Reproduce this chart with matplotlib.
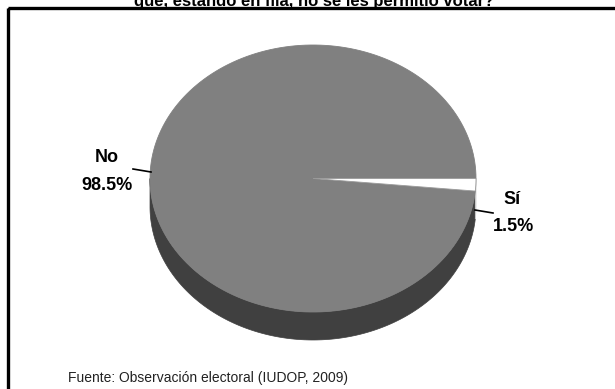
import numpy as np
import matplotlib.pyplot as plt
from matplotlib.patches import Polygon, Rectangle

labels = ['No', 'Sí']
values = [98.5, 1.5]
top_colors = ['#808080', '#ffffff']
side_colors = ['#404040', '#c8c8c8']

title = 'que, estando en fila, no se les permitió votar?'
source = 'Fuente: Observación electoral (IUDOP, 2009)'

plt.rcParams['font.family'] = ['Liberation Sans', 'DejaVu Sans']

W, H = 615, 389
fig = plt.figure(figsize=(W / 100, H / 100), dpi=100)
ax = fig.add_axes([0, 0, 1, 1])
ax.set_xlim(0, W)
ax.set_ylim(H, 0)
ax.axis('off')

# ellipse geometry of the tilted pie (pixel units)
cx, cy = 313, 178.5
rx, ry = 163, 133.5
depth = 28


def arc(t0, t1, dy=0, n=200):
    t = np.radians(np.linspace(t0, t1, n))
    return np.column_stack([cx + rx * np.cos(t), cy - ry * np.sin(t) + dy])


# slice angles: "Sí" hangs just below the 3 o'clock line, "No" takes the rest
fracs = np.array(values) / sum(values) * 360
spans = [(0, fracs[0]), (-fracs[1], 0)]

# side wall, only the front half (180..360 deg) is visible
for (a0, a1), col in zip(spans, side_colors):
    if a0 < 0:
        lo, hi = a0 + 360, 360
    else:
        lo, hi = 180, min(a1, 360)
    if hi <= lo:
        continue
    top_edge = arc(lo, hi)
    bot_edge = arc(hi, lo, dy=depth)
    ax.add_patch(Polygon(np.vstack([top_edge, bot_edge]), closed=True,
                         facecolor=col, edgecolor=col, lw=0.5, zorder=1))

# top faces
for (a0, a1), col in zip(spans, top_colors):
    pts = np.vstack([[cx, cy], arc(a0, a1)])
    ax.add_patch(Polygon(pts, closed=True, facecolor=col,
                         edgecolor='#9a9a9a' if col == '#ffffff' else col,
                         lw=0.6, zorder=2))

# labels with short leader lines
lab_style = dict(ha='center', va='center', fontsize=13, fontweight='bold')
ax.plot([133, 151], [169, 172], color='black', lw=1.2, zorder=3)
ax.text(107, 157, labels[0], **lab_style)
ax.text(107, 185, f'{values[0]}%', **lab_style)
ax.plot([475, 493], [210, 213], color='black', lw=1.2, zorder=3)
ax.text(512, 199, labels[1], **lab_style)
ax.text(513, 226, f'{values[1]}%', **lab_style)

# chart title, partly hidden above the frame
ax.text(314, 5.5, title, ha='center', va='baseline',
        fontsize=12, fontweight='bold', zorder=1)

# outer frame
ax.add_patch(Rectangle((7.5, 7.5), W + 50, H + 50, fill=False,
                       edgecolor='black', lw=2.4, zorder=5))

ax.text(68, 378, source, ha='left', va='center', fontsize=10,
        color='#222222')

fig.savefig('out.png', dpi=100)
